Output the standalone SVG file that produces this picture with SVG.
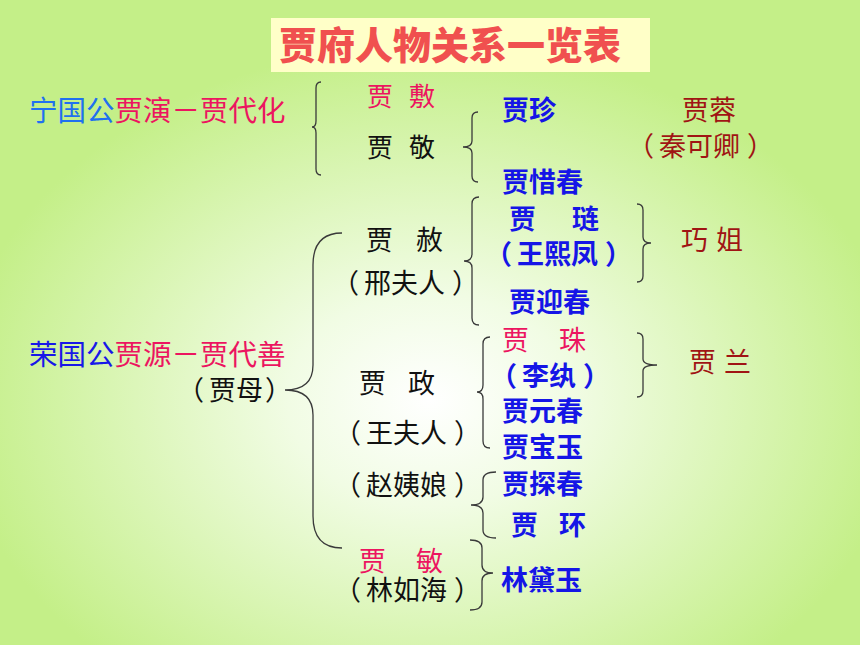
<svg xmlns="http://www.w3.org/2000/svg" width="860" height="645" viewBox="0 0 860 645">
<defs>
<radialGradient id="bg" cx="0.5" cy="0.62" r="0.55">
<stop offset="0" stop-color="#ffffff"/>
<stop offset="0.3" stop-color="#f1fce4"/>
<stop offset="1" stop-color="#c4ef88"/>
</radialGradient>
<style>
text{font-family:"Noto Sans CJK SC","Noto Sans CJK JP",sans-serif;font-size:27px}
.t{font-size:38px;font-weight:900;fill:#f0504f}
.big{font-size:28.5px}
.lb{fill:#2070f0}
.db{fill:#1818e8}
.cr{fill:#ec1560}
.bl{fill:#1515e6;font-weight:bold}
.dr{fill:#a01414}
.k{fill:#111111}
.br{fill:none;stroke:#3a3a3a;stroke-width:1.3}
</style>
</defs>
<rect x="0" y="0" width="860" height="645" fill="url(#bg)"/>
<g id="title">
<rect x="271" y="18" width="379" height="54" fill="#ffffc8"/>
<text class="t" x="279" y="59">贾府人物关系一览表</text>
</g>
<g id="connectors">
<path class="br" d="M321,82 Q316,82 316,88 L316,121 Q316,127 312,127 Q316,127 316,133 L316,169 Q316,175 321,175"/>
<path class="br" d="M478,112 Q472,112 472,118 L472,141 Q472,147 463,147 Q472,147 472,153 L472,176 Q472,182 478,182"/>
<path class="br" d="M479,197 Q472,197 472,204 L472,254 Q472,261 464,261 Q472,261 472,268 L472,318 Q472,325 479,325"/>
<path class="br" d="M490,337 Q483,337 483,344 L483,385 Q483,392 477,392 Q483,392 483,399 L483,441 Q483,448 490,448"/>
<path class="br" d="M496,472 Q483,472 483,480 L483,497 Q483,505 471,505 Q483,505 483,513 L483,530 Q483,538 496,538"/>
<path class="br" d="M342,233 Q313,233 313,265 L313,365 Q313,390 285,390 Q313,390 313,415 L313,516 Q313,548 342,548"/>
<path class="br" d="M637,204 Q643,204 643,210 L643,237 Q643,243 651,243 Q643,243 643,249 L643,276 Q643,282 637,282"/>
<path class="br" d="M637,333 Q643,333 643,339 L643,359 Q643,365 657,365 Q643,365 643,371 L643,391 Q643,397 637,397"/>
<path class="br" d="M470,540 Q482,540 482,548 L482,565 Q482,573 493,573 Q482,573 482,581 L482,602 Q482,610 470,610"/>
</g>
<g id="ningguogong"><text class="big" x="29" y="121"><tspan class="lb">宁国公</tspan><tspan class="cr">贾演－贾代化</tspan></text></g>
<g id="rongguogong"><text class="big" x="29" y="365"><tspan class="db">荣国公</tspan><tspan class="cr">贾源－贾代善</tspan></text></g>
<g id="jiamu"><text class="k" y="400"><tspan x="177">（</tspan><tspan x="209">贾母</tspan><tspan x="265">）</tspan></text></g>
<g id="jiafu"><text class="cr" y="106" style="font-size:26px"><tspan x="367">贾</tspan><tspan x="409">敷</tspan></text></g>
<g id="jiajing"><text class="k" y="157" style="font-size:26px"><tspan x="367">贾</tspan><tspan x="409">敬</tspan></text></g>
<g id="jiazhen"><text class="bl" x="502" y="120">贾珍</text></g>
<g id="jiaxichun"><text class="bl" x="502" y="192">贾惜春</text></g>
<g id="jiarong"><text class="dr" x="682" y="120">贾蓉</text><text class="dr" y="156"><tspan x="627">（</tspan><tspan x="659">秦可卿</tspan><tspan x="747">）</tspan></text></g>
<g id="jiashe"><text class="k" y="250"><tspan x="366">贾</tspan><tspan x="416">赦</tspan></text><text class="k" y="293"><tspan x="332">（</tspan><tspan x="364">邢夫人</tspan><tspan x="452">）</tspan></text></g>
<g id="jialian"><text class="bl" y="229"><tspan x="509">贾</tspan><tspan x="572">琏</tspan></text><text class="bl" y="264"><tspan x="485">（</tspan><tspan x="517">王熙凤</tspan><tspan x="605">）</tspan></text></g>
<g id="qiaojie"><text class="dr" y="250"><tspan x="681">巧</tspan><tspan x="716">姐</tspan></text></g>
<g id="jiayingchun"><text class="bl" x="509" y="312">贾迎春</text></g>
<g id="jiazhu"><text class="cr" y="350"><tspan x="502">贾</tspan><tspan x="559">珠</tspan></text><text class="bl" y="386"><tspan x="490">（</tspan><tspan x="522">李纨</tspan><tspan x="583">）</tspan></text></g>
<g id="jialan"><text class="dr" y="372"><tspan x="689">贾</tspan><tspan x="724">兰</tspan></text></g>
<g id="jiazheng"><text class="k" y="393"><tspan x="359">贾</tspan><tspan x="408">政</tspan></text><text class="k" y="443"><tspan x="334">（</tspan><tspan x="366">王夫人</tspan><tspan x="454">）</tspan></text></g>
<g id="jiayuanchun"><text class="bl" x="502" y="421">贾元春</text></g>
<g id="jiabaoyu"><text class="bl" x="502" y="457">贾宝玉</text></g>
<g id="zhaoyiniang"><text class="k" y="495"><tspan x="334">（</tspan><tspan x="366">赵姨娘</tspan><tspan x="454">）</tspan></text></g>
<g id="jiatanchun"><text class="bl" x="502" y="494">贾探春</text></g>
<g id="jiahuan"><text class="bl" y="535"><tspan x="511">贾</tspan><tspan x="559">环</tspan></text></g>
<g id="jiamin"><text class="cr" y="571"><tspan x="359">贾</tspan><tspan x="416">敏</tspan></text><text class="k" y="600"><tspan x="334">（</tspan><tspan x="366">林如海</tspan><tspan x="454">）</tspan></text></g>
<g id="lindaiyu"><text class="bl" x="501" y="590">林黛玉</text></g>
</svg>
